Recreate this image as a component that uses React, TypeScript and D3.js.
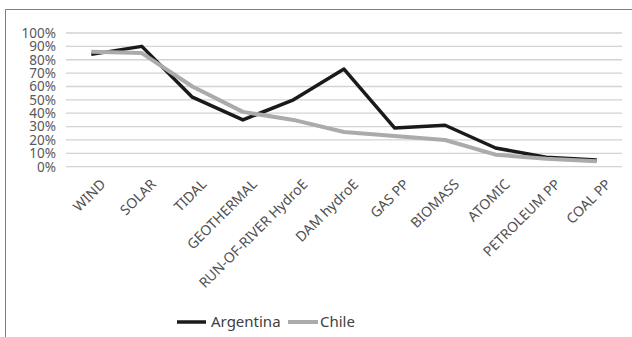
import React from "react";
import * as d3 from "d3";

const categories = [
  "WIND", "SOLAR", "TIDAL", "GEOTHERMAL", "RUN-OF-RIVER HydroE", "DAM hydroE",
  "GAS PP", "BIOMASS", "ATOMIC", "PETROLEUM PP", "COAL PP",
];
const argentina = [84, 90, 52, 35, 50, 73, 29, 31, 14, 7, 5];
const chile = [86, 85, 60, 41, 35, 26, 23, 20, 9, 6, 4];
const yTicks = [0, 10, 20, 30, 40, 50, 60, 70, 80, 90, 100];

const W = 632;
const H = 337;
const FONT = "'Noto Sans', 'Open Sans', sans-serif";

export default function App() {
  const x = d3.scaleBand<string>().domain(categories).range([66, 622]);
  const y = d3.scaleLinear().domain([0, 100]).range([166.7, 33]);
  const cx = (c: string) => (x(c) ?? 0) + x.bandwidth() / 2;
  const line = d3
    .line<number>()
    .x((_, i) => cx(categories[i]))
    .y((v) => y(v));

  return (
    <svg
      width={W}
      height={H}
      style={{ position: "absolute", left: 0, top: 0, background: "#fff" }}
      fontFamily={FONT}
    >
      <rect x={0} y={0} width={W} height={H} fill="#fff" />
      <line x1={5.5} x2={W} y1={9.5} y2={9.5} stroke="#7f7f7f" strokeWidth={1} />
      <line x1={5.5} x2={5.5} y1={9.5} y2={H} stroke="#7f7f7f" strokeWidth={1} />

      {yTicks.map((t) => (
        <g key={t}>
          <line x1={66} x2={622} y1={y(t)} y2={y(t)} stroke="#d3d3d3" strokeWidth={1.3} />
          <text
            x={56}
            y={y(t)}
            dy="0.36em"
            textAnchor="end"
            fontSize={13.5}
            fill="#595959"
          >
            {t}%
          </text>
        </g>
      ))}

      {categories.map((c) => (
        <text
          key={c}
          transform={`translate(${cx(c) + 8},${178}) rotate(-45)`}
          dy="0.72em"
          textAnchor="end"
          fontSize={14}
          fill="#505050"
        >
          {c}
        </text>
      ))}

      <path
        d={line(argentina) ?? ""}
        fill="none"
        stroke="#1a1a1a"
        strokeWidth={3.5}
        strokeLinejoin="round"
      />
      <path
        d={line(chile) ?? ""}
        fill="none"
        stroke="#ababab"
        strokeWidth={4}
        strokeLinejoin="round"
      />

      <g>
        <line x1={177} x2={206} y1={322} y2={322} stroke="#1a1a1a" strokeWidth={3.5} />
        <text x={211} y={322} dy="0.36em" fontSize={15} fill="#404040">
          Argentina
        </text>
        <line x1={288} x2={318} y1={322} y2={322} stroke="#ababab" strokeWidth={4} />
        <text x={320} y={322} dy="0.36em" fontSize={15} fill="#404040">
          Chile
        </text>
      </g>
    </svg>
  );
}
